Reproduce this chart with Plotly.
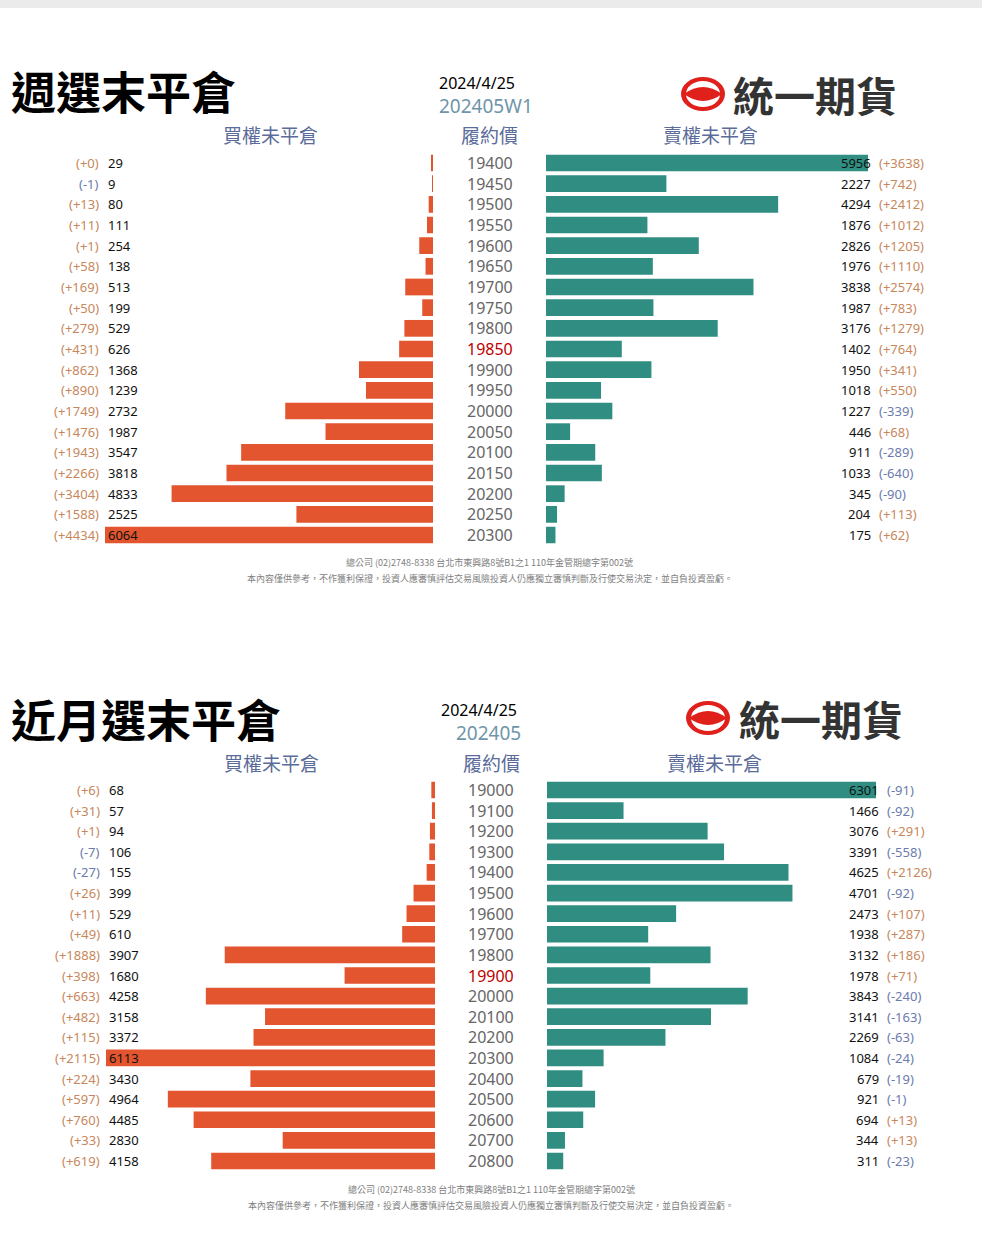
import plotly.graph_objects as go

W, H = 982, 1259

# ---------------- data ----------------
strikes_w = ["19400", "19450", "19500", "19550", "19600", "19650", "19700", "19750", "19800", "19850",
             "19900", "19950", "20000", "20050", "20100", "20150", "20200", "20250", "20300"]
call_oi_w = [29, 9, 80, 111, 254, 138, 513, 199, 529, 626, 1368, 1239, 2732, 1987, 3547, 3818, 4833, 2525, 6064]
call_chg_w = [0, -1, 13, 11, 1, 58, 169, 50, 279, 431, 862, 890, 1749, 1476, 1943, 2266, 3404, 1588, 4434]
put_oi_w = [5956, 2227, 4294, 1876, 2826, 1976, 3838, 1987, 3176, 1402, 1950, 1018, 1227, 446, 911, 1033, 345, 204, 175]
put_chg_w = [3638, 742, 2412, 1012, 1205, 1110, 2574, 783, 1279, 764, 341, 550, -339, 68, -289, -640, -90, 113, 62]
atm_w = "19850"

strikes_m = ["19000", "19100", "19200", "19300", "19400", "19500", "19600", "19700", "19800", "19900",
             "20000", "20100", "20200", "20300", "20400", "20500", "20600", "20700", "20800"]
call_oi_m = [68, 57, 94, 106, 155, 399, 529, 610, 3907, 1680, 4258, 3158, 3372, 6113, 3430, 4964, 4485, 2830, 4158]
call_chg_m = [6, 31, 1, -7, -27, 26, 11, 49, 1888, 398, 663, 482, 115, 2115, 224, 597, 760, 33, 619]
put_oi_m = [6301, 1466, 3076, 3391, 4625, 4701, 2473, 1938, 3132, 1978, 3843, 3141, 2269, 1084, 679, 921, 694, 344, 311]
put_chg_m = [-91, -92, 291, -558, 2126, -92, 107, 287, 186, 71, -240, -163, -63, -24, -19, -1, 13, 13, -23]
atm_m = "19900"

# ---------------- style ----------------
ORANGE = "#E2552E"
TEAL = "#2F8E81"
POS = "#C8875B"
NEG = "#6B7BAE"
HDR = "#5B6C9A"
CJK = "Noto Sans CJK TC"
NUM = "Noto Sans"


def px(x):
    return x / W


def py(y):
    return 1 - y / H


fig = go.Figure()
annotations = []
shapes = []


def panel(strikes, call_oi, call_chg, put_oi, put_chg, atm, ax_l, ax_r, ay,
          left_dom, right_dom, row_top, row_bot, title, date, series,
          title_y, date_x, series_x, logo_c, logo_text_x, hdr_y, foot_y):
    n = len(strikes)
    step = (row_bot - row_top) / (n - 1)
    ytop = row_top - step / 2
    ybot = row_bot + step / 2
    xa_l = "xaxis" + ("" if ax_l == 1 else str(ax_l))
    xa_r = "xaxis" + str(ax_r)
    ya = "yaxis" + ("" if ay == 1 else str(ay))
    yref = "y" + ("" if ay == 1 else str(ay))
    xr_l = "x" + ("" if ax_l == 1 else str(ax_l))
    xr_r = "x" + str(ax_r)

    fig.add_trace(go.Bar(y=strikes, x=call_oi, orientation="h", xaxis=xr_l, yaxis=yref,
                         marker=dict(color=ORANGE, line=dict(width=0)), showlegend=False,
                         hoverinfo="skip"))
    fig.add_trace(go.Bar(y=strikes, x=put_oi, orientation="h", xaxis=xr_r, yaxis=yref,
                         marker=dict(color=TEAL, line=dict(width=0)), showlegend=False,
                         hoverinfo="skip"))

    fig.layout[xa_l] = dict(domain=[px(left_dom[0]), px(left_dom[1])], range=[max(call_oi), 0],
                            anchor=yref, visible=False, fixedrange=True)
    fig.layout[xa_r] = dict(domain=[px(right_dom[0]), px(right_dom[1])], range=[0, max(put_oi)],
                            anchor=yref, visible=False, fixedrange=True)
    fig.layout[ya] = dict(domain=[py(ybot), py(ytop)], type="category", categoryorder="array",
                          categoryarray=strikes, range=[n - 0.5, -0.5], visible=False,
                          anchor=xr_l, fixedrange=True)

    for i, (v, c) in enumerate(zip(call_oi, call_chg)):
        annotations.append(dict(x=px(left_dom[0] + 1), y=i, xref="paper", yref=yref, text=str(v),
                                xanchor="left", yanchor="middle", showarrow=False,
                                font=dict(family=NUM, size=13, color="#111")))
        annotations.append(dict(x=px(left_dom[0] - 4), y=i, xref="paper", yref=yref,
                                text=f"({c:+d})", xanchor="right", yanchor="middle", showarrow=False,
                                font=dict(family=NUM, size=13, color=POS if c >= 0 else NEG)))
    for i, (v, c) in enumerate(zip(put_oi, put_chg)):
        annotations.append(dict(x=px(right_dom[1] + 5), y=i, xref="paper", yref=yref, text=str(v),
                                xanchor="right", yanchor="middle", showarrow=False,
                                font=dict(family=NUM, size=13, color="#111")))
        annotations.append(dict(x=px(right_dom[1] + 9), y=i, xref="paper", yref=yref,
                                text=f"({c:+d})", xanchor="left", yanchor="middle", showarrow=False,
                                font=dict(family=NUM, size=13, color=POS if c >= 0 else NEG)))
    mid = (left_dom[1] + right_dom[0]) / 2
    for i, s in enumerate(strikes):
        annotations.append(dict(x=px(mid), y=i, xref="paper", yref=yref, text=s,
                                xanchor="center", yanchor="middle", showarrow=False,
                                font=dict(family=NUM, size=16, color="#C00000" if s == atm else "#666")))

    # titles
    annotations.append(dict(x=px(9), y=py(title_y), xref="paper", yref="paper", text=f"<b>{title}</b>",
                            xanchor="left", yanchor="middle", showarrow=False,
                            font=dict(family=CJK, size=45, color="#000")))
    annotations.append(dict(x=px(date_x), y=py(title_y - 8), xref="paper", yref="paper", text=date,
                            xanchor="left", yanchor="middle", showarrow=False, borderpad=0,
                            font=dict(family=NUM, size=16, color="#000")))
    annotations.append(dict(x=px(series_x), y=py(title_y + 15), xref="paper", yref="paper", text=series,
                            xanchor="left", yanchor="middle", showarrow=False, borderpad=0,
                            font=dict(family=NUM, size=19, color="#6F95AA")))
    # headers
    for txt, cx in (("買權未平倉", (left_dom[0] + left_dom[1]) / 2 + 1), ("履約價", mid),
                    ("賣權未平倉", (right_dom[0] + right_dom[1]) / 2 + 3)):
        annotations.append(dict(x=px(cx), y=py(hdr_y), xref="paper", yref="paper", text=txt,
                                xanchor="center", yanchor="middle", showarrow=False,
                                font=dict(family=CJK, size=19, color=HDR)))
    # logo
    cx, cy = logo_c
    rx, ry = 22, 17
    shapes.append(dict(type="circle", xref="paper", yref="paper", x0=px(cx - rx), x1=px(cx + rx),
                       y0=py(cy + ry), y1=py(cy - ry), fillcolor="#E0201B", line=dict(width=0)))
    shapes.append(dict(type="circle", xref="paper", yref="paper", x0=px(cx - rx + 5), x1=px(cx + rx - 5),
                       y0=py(cy + ry - 4), y1=py(cy - ry + 4), fillcolor="#fff", line=dict(width=0)))
    path = (f"M {px(cx - rx + 3)} {py(cy)} Q {px(cx)} {py(cy - 14)} {px(cx + rx - 3)} {py(cy)} "
            f"Q {px(cx)} {py(cy + 14)} {px(cx - rx + 3)} {py(cy)} Z")
    shapes.append(dict(type="path", xref="paper", yref="paper", path=path, fillcolor="#E0201B",
                       line=dict(width=0)))
    annotations.append(dict(x=px(logo_text_x), y=py(cy), xref="paper", yref="paper", text="<b>統一期貨</b>",
                            xanchor="left", yanchor="middle", showarrow=False,
                            font=dict(family=CJK, size=41, color="#333")))
    # footnotes
    annotations.append(dict(x=px(mid), y=py(foot_y), xref="paper", yref="paper",
                            text="總公司 (02)2748-8338 台北市東興路8號B1之1 110年金管期總字第002號",
                            xanchor="center", yanchor="middle", showarrow=False,
                            font=dict(family=CJK, size=9, color="#808080")))
    annotations.append(dict(x=px(mid), y=py(foot_y + 16), xref="paper", yref="paper",
                            text="本內容僅供參考，不作獲利保證，投資人應審慎評估交易風險投資人仍應獨立審慎判斷及行使交易決定，並自負投資盈虧。",
                            xanchor="center", yanchor="middle", showarrow=False,
                            font=dict(family=CJK, size=9, color="#808080")))


panel(strikes_w, call_oi_w, call_chg_w, put_oi_w, put_chg_w, atm_w, 1, 2, 1,
      (105, 433), (546, 868), 163, 535, "週選末平倉", "2024/4/25", "202405W1",
      91, 438, 438, (703, 94), 731, 134, 562)
panel(strikes_m, call_oi_m, call_chg_m, put_oi_m, put_chg_m, atm_m, 3, 4, 2,
      (106, 435), (547, 876), 790, 1161, "近月選末平倉", "2024/4/25", "202405",
      718, 440, 455, (708, 718), 737, 762, 1189)

shapes.append(dict(type="rect", xref="paper", yref="paper", x0=0, x1=1, y0=py(8), y1=1,
                   fillcolor="#EBEBEB", line=dict(width=0), layer="below"))

fig.update_layout(width=W, height=H, margin=dict(l=0, r=0, t=0, b=0),
                  paper_bgcolor="#fff", plot_bgcolor="rgba(0,0,0,0)", bargap=0.19,
                  annotations=annotations, shapes=shapes, showlegend=False)

fig.write_html("out.html", config={"displayModeBar": False},
               post_script="document.body.style.margin='0';document.body.style.overflow='hidden';")
